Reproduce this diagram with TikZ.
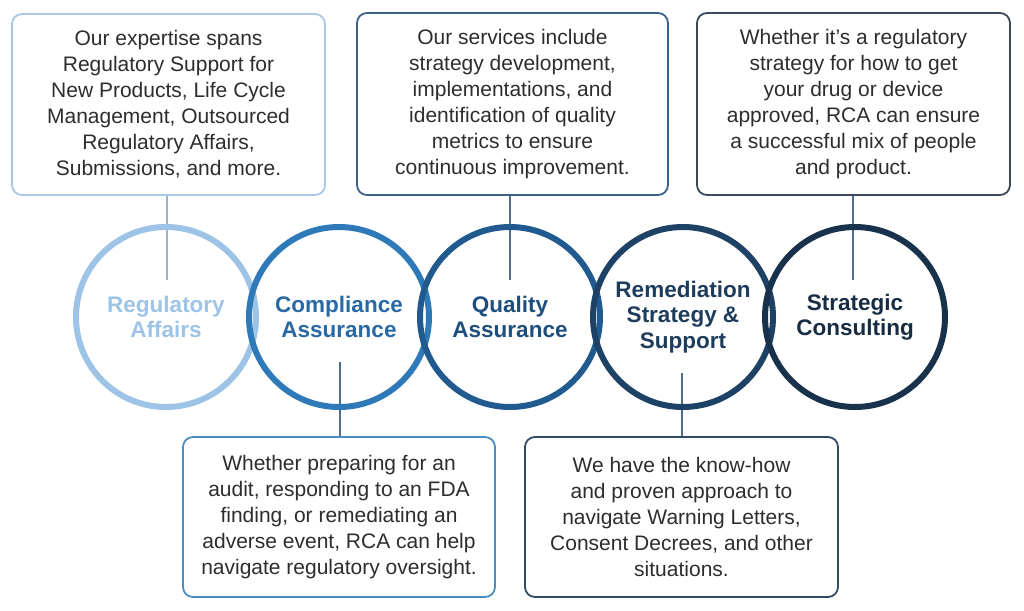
\documentclass[tikz,border=0pt]{standalone}
\usepackage{fontspec}
\setmainfont{Liberation Sans}
\definecolor{ringA}{RGB}{157,195,230}
\definecolor{ringB}{RGB}{46,122,185}
\definecolor{ringC}{RGB}{32,90,142}
\definecolor{ringD}{RGB}{30,66,102}
\definecolor{ringE}{RGB}{24,50,76}
\definecolor{txtB}{RGB}{40,105,165}
\definecolor{txtC}{RGB}{30,78,125}
\definecolor{txtD}{RGB}{30,60,92}
\definecolor{txtE}{RGB}{24,44,66}
\definecolor{boxA}{RGB}{168,200,228}
\definecolor{boxB}{RGB}{58,98,138}
\definecolor{boxC}{RGB}{58,72,88}
\definecolor{boxD}{RGB}{72,142,194}
\definecolor{boxE}{RGB}{50,74,100}
\definecolor{bodytext}{RGB}{45,45,45}
\definecolor{linkA}{RGB}{150,180,205}
\definecolor{linkB}{RGB}{80,110,140}
\tikzset{
  infobox/.style={draw, line width=1.8pt, rounded corners=10pt, align=center,
    text=bodytext, font=\fontsize{21}{26}\selectfont, inner sep=0pt},
  ring/.style={circle, draw, line width=6pt, minimum size=180pt, inner sep=0pt,
    align=center, font=\fontsize{22.5}{25.5}\selectfont\bfseries},
  link/.style={line width=1.6pt}
}
\begin{document}
\begin{tikzpicture}[x=1pt,y=-1pt]
\useasboundingbox (0,0) rectangle (1024,610);
% boxes
\node[infobox, draw=boxA, minimum width=313pt, minimum height=181pt] (b1) at (168.5,104.5)
 {Our expertise spans\\Regulatory Support for\\New Products, Life Cycle\\Management, Outsourced\\Regulatory Affairs,\\Submissions, and more.};
\node[infobox, draw=boxB, minimum width=311pt, minimum height=182pt] (b2) at (512.5,104)
 {Our services include\\strategy development,\\implementations, and\\identification of quality\\metrics to ensure\\continuous improvement.};
\node[infobox, draw=boxC, minimum width=313pt, minimum height=182pt] (b3) at (853.5,104)
 {Whether it’s a regulatory\\strategy for how to get\\your drug or device\\approved, RCA can ensure\\a successful mix of people\\and product.};
\node[infobox, draw=boxD, minimum width=312pt, minimum height=160pt] (b4) at (339,517)
 {Whether preparing for an\\audit, responding to an FDA\\finding, or remediating an\\adverse event, RCA can help\\navigate regulatory oversight.};
\node[infobox, draw=boxE, minimum width=313pt, minimum height=160pt] (b5) at (681.5,517)
 {We have the know-how\\and proven approach to\\navigate Warning Letters,\\Consent Decrees, and other\\situations.};
% connector ends
\coordinate (e1) at (167,280);
\coordinate (e2) at (510,280);
\coordinate (e3) at (853,280);
\coordinate (e4) at (340,362);
\coordinate (e5) at (682,373);
\draw[link, draw=linkA] (b1.south -| e1) -- (e1);
\draw[link, draw=linkB] (b2.south -| e2) -- (e2);
\draw[link, draw=linkB] (b3.south -| e3) -- (e3);
\draw[link, draw=linkB] (b4.north -| e4) -- (e4);
\draw[link, draw=linkB] (b5.north -| e5) -- (e5);
% rings
\node[ring, draw=ringA, text=ringA] (c1) at (166,317) {Regulatory\\Affairs};
\node[ring, draw=ringB, text=txtB] (c2) at (339,317) {Compliance\\Assurance};
\node[ring, draw=ringC, text=txtC] (c3) at (510,317) {Quality\\Assurance};
\node[ring, draw=ringD, text=txtD] (c4) at (683,317) {Remediation\\Strategy \&\\Support};
\node[ring, draw=ringE, text=txtE] (c5) at (855,317) {Strategic\\Consulting};
\end{tikzpicture}
\end{document}
